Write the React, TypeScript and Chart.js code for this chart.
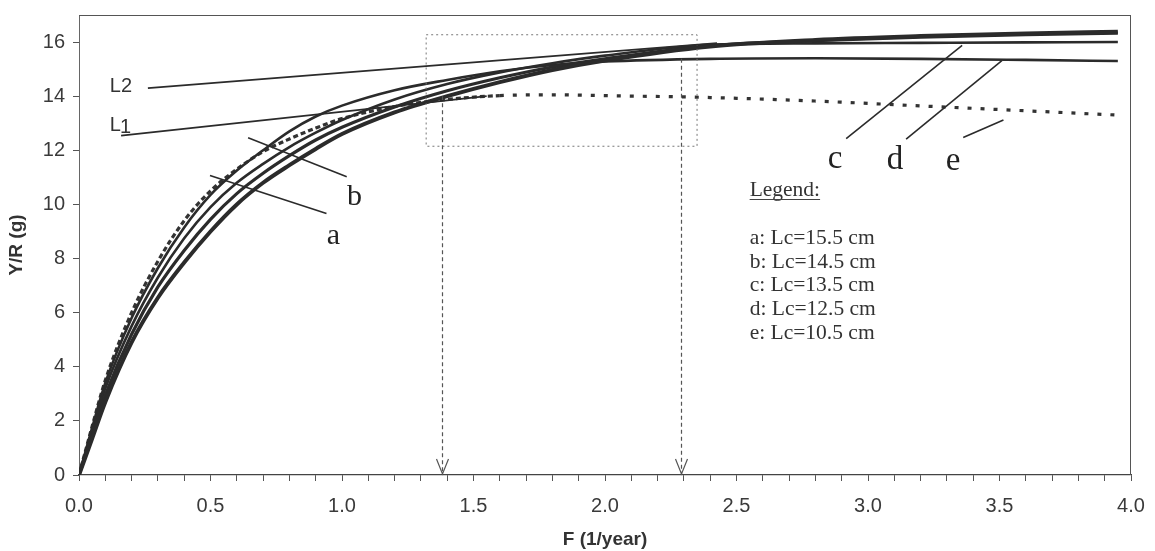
import React, { useEffect, useRef } from 'react';
import { Chart, registerables } from 'chart.js';

Chart.register(...registerables);

// Fishing mortality F (1/year) at which the yield-per-recruit curves are sampled
const F_VALUES = [0, 0.05, 0.1, 0.2, 0.3, 0.4, 0.5, 0.6, 0.7, 0.8, 0.9, 1.0, 1.2, 1.4, 1.6, 1.8, 2.0, 2.4, 2.8, 3.2, 3.6, 3.95];

// Y/R (g) for each length at first capture Lc
const YR_A = [0, 1.35, 2.7, 4.9, 6.55, 7.85, 9.0, 10.0, 10.8, 11.45, 12.05, 12.6, 13.4, 14.0, 14.52, 14.97, 15.32, 15.84, 16.08, 16.22, 16.32, 16.38];
const YR_B = [0, 1.5, 2.95, 5.2, 6.95, 8.3, 9.45, 10.4, 11.15, 11.8, 12.38, 12.85, 13.6, 14.2, 14.68, 15.08, 15.38, 15.86, 16.05, 16.18, 16.27, 16.33];
const YR_C = [0, 1.65, 3.2, 5.5, 7.3, 8.75, 9.9, 10.8, 11.5, 12.12, 12.65, 13.12, 13.88, 14.45, 14.88, 15.22, 15.5, 15.9, 15.95, 15.97, 15.99, 16.0];
const YR_D = [0, 1.75, 3.4, 5.8, 7.65, 9.15, 10.35, 11.25, 12.0, 12.7, 13.25, 13.65, 14.22, 14.6, 14.92, 15.15, 15.28, 15.38, 15.4, 15.38, 15.34, 15.3];
const YR_E = [0, 1.8, 3.5, 6.0, 7.9, 9.4, 10.5, 11.3, 11.95, 12.42, 12.82, 13.17, 13.62, 13.88, 14.02, 14.05, 14.02, 13.95, 13.82, 13.64, 13.46, 13.3];

const CURVE_LETTERS = ['a', 'b', 'c', 'd', 'e'];
const LC_CM = ['15.5', '14.5', '13.5', '12.5', '10.5'];

// Axis ranges and tick steps
const X_MIN = 0;
const X_MAX = 4;
const X_MINOR_STEP = 0.1;
const Y_MIN = 0;
const Y_MAX = 17;
const Y_STEP = 2;
const X_TITLE = 'F (1/year)';
const Y_TITLE = 'Y/R (g)';

// Tangent lines L1, L2 as [F, Y/R] end points
const L1_LINE = [[0.16, 12.54], [1.55, 14.0]];
const L2_LINE = [[0.262, 14.3], [2.426, 15.96]];

// Drop lines to the F axis: [F, starting Y/R]
const DROP_LINES = [[1.38, 14.0], [2.29, 15.38]];

// Dotted enlargement frame [F0, F1, Y0, Y1]
const FRAME_BOX = [1.32, 2.35, 12.15, 16.27];

// Curve label leader lines [[F, Y/R], [F, Y/R]] and label baselines [F, Y/R]
const LEADERS = [
  [[0.498, 11.07], [0.941, 9.66]],
  [[0.643, 12.46], [1.018, 11.02]],
  [[2.917, 12.43], [3.358, 15.88]],
  [[3.145, 12.41], [3.509, 15.31]],
  [[3.362, 12.47], [3.515, 13.12]],
];
const LETTER_AT = [[0.967, 8.54], [1.048, 9.98], [2.875, 11.33], [3.103, 11.31], [3.323, 11.29]];
const LETTER_SIZE = [30, 30, 33, 33, 33];

const L2_LABEL_AT = [0.117, 14.14];
const L1_LABEL_AT = [0.117, 12.73];

// Legend block: left edge F, baseline Y/R of the heading, item baselines
const LEGEND_LEFT_F = 2.55;
const LEGEND_HEAD_Y = 10.32;
const LEGEND_ITEM_Y = [8.54, 7.66, 6.8, 5.91, 5.02];

const SANS = '"Liberation Sans", Arial, sans-serif';
const SERIF = '"Liberation Serif", "Times New Roman", serif';
const INK = '#2b2b2b';

const toPoints = (ys: number[]) => F_VALUES.map((f, i) => ({ x: f, y: ys[i] }));

const annotationPlugin = {
  id: 'yprAnnotations',
  afterDatasetsDraw(chart: any) {
    const { ctx, chartArea } = chart;
    const xs = chart.scales.x;
    const ys = chart.scales.y;
    const px = (f: number) => xs.getPixelForValue(f);
    const py = (v: number) => ys.getPixelForValue(v);

    ctx.save();

    // top and right edges of the plot frame
    ctx.strokeStyle = '#555';
    ctx.lineWidth = 1;
    ctx.setLineDash([]);
    ctx.beginPath();
    ctx.moveTo(chartArea.left, Math.round(chartArea.top) + 0.5);
    ctx.lineTo(chartArea.right, Math.round(chartArea.top) + 0.5);
    ctx.moveTo(Math.round(chartArea.right) - 0.5, chartArea.top);
    ctx.lineTo(Math.round(chartArea.right) - 0.5, chartArea.bottom);
    ctx.stroke();

    // dotted enlargement frame
    const [b0, b1, c0, c1] = FRAME_BOX;
    ctx.strokeStyle = '#777';
    ctx.lineWidth = 1;
    ctx.setLineDash([2, 3]);
    ctx.strokeRect(px(b0), py(c1), px(b1) - px(b0), py(c0) - py(c1));

    // dashed drop lines with open arrow heads
    DROP_LINES.forEach(([f, v]) => {
      const x = Math.round(px(f)) + 0.5;
      ctx.strokeStyle = '#555';
      ctx.lineWidth = 1.2;
      ctx.setLineDash([4, 3]);
      ctx.beginPath();
      ctx.moveTo(x, py(v));
      ctx.lineTo(x, py(0) - 1);
      ctx.stroke();
      ctx.setLineDash([]);
      ctx.beginPath();
      ctx.moveTo(x - 6, py(0) - 16);
      ctx.lineTo(x, py(0) - 1);
      ctx.lineTo(x + 6, py(0) - 16);
      ctx.stroke();
    });

    // tangent lines
    ctx.setLineDash([]);
    ctx.strokeStyle = INK;
    ctx.lineWidth = 1.8;
    [L1_LINE, L2_LINE].forEach(([p, q]) => {
      ctx.beginPath();
      ctx.moveTo(px(p[0]), py(p[1]));
      ctx.lineTo(px(q[0]), py(q[1]));
      ctx.stroke();
    });

    // leader lines to the curves
    ctx.lineWidth = 1.6;
    LEADERS.forEach(([p, q]) => {
      ctx.beginPath();
      ctx.moveTo(px(p[0]), py(p[1]));
      ctx.lineTo(px(q[0]), py(q[1]));
      ctx.stroke();
    });

    // curve letters
    ctx.fillStyle = '#222';
    ctx.textBaseline = 'alphabetic';
    ctx.textAlign = 'center';
    CURVE_LETTERS.forEach((letter, i) => {
      ctx.font = `${LETTER_SIZE[i]}px ${SERIF}`;
      ctx.fillText(letter, px(LETTER_AT[i][0]), py(LETTER_AT[i][1]));
    });

    // L1 / L2 labels
    ctx.textAlign = 'left';
    ctx.fillStyle = '#333';
    ctx.font = `20px ${SANS}`;
    ctx.fillText('L2', px(L2_LABEL_AT[0]), py(L2_LABEL_AT[1]));
    const lx = px(L1_LABEL_AT[0]);
    const ly = py(L1_LABEL_AT[1]);
    ctx.fillText('L', lx, ly);
    ctx.fillText('1', lx + ctx.measureText('L').width - 1, ly + 2);

    // legend text block
    const legX = px(LEGEND_LEFT_F);
    ctx.fillStyle = '#333';
    ctx.font = `21.5px ${SERIF}`;
    const headY = py(LEGEND_HEAD_Y);
    ctx.fillText('Legend:', legX, headY);
    const w = ctx.measureText('Legend:').width;
    ctx.strokeStyle = '#444';
    ctx.lineWidth = 1;
    ctx.beginPath();
    ctx.moveTo(legX, Math.round(headY) + 3.5);
    ctx.lineTo(legX + w, Math.round(headY) + 3.5);
    ctx.stroke();
    CURVE_LETTERS.forEach((letter, i) => {
      ctx.fillText(`${letter}: Lc=${LC_CM[i]} cm`, legX, py(LEGEND_ITEM_Y[i]));
    });

    ctx.restore();
  },
};

export default function App() {
  const canvasRef = useRef<HTMLCanvasElement | null>(null);

  useEffect(() => {
    const canvas = canvasRef.current;
    if (!canvas) return;

    const curveStyle = (width: number) => ({
      borderColor: INK,
      borderWidth: width,
      pointRadius: 0,
      fill: false,
      cubicInterpolationMode: 'monotone' as const,
    });

    const chart = new Chart(canvas, {
      type: 'line',
      data: {
        datasets: [
          { label: 'a: Lc=15.5 cm', data: toPoints(YR_A), ...curveStyle(4) },
          { label: 'b: Lc=14.5 cm', data: toPoints(YR_B), ...curveStyle(3.2) },
          { label: 'c: Lc=13.5 cm', data: toPoints(YR_C), ...curveStyle(2.6) },
          { label: 'd: Lc=12.5 cm', data: toPoints(YR_D), ...curveStyle(2.6) },
          {
            label: 'e: Lc=10.5 cm',
            data: toPoints(YR_E),
            ...curveStyle(3.2),
            borderColor: '#333',
            borderCapStyle: 'butt',
            segment: {
              borderDash: (c: any) => (c.p0.parsed.x >= 1.55 ? [4, 9] : [5, 3]),
            },
          },
        ],
      },
      options: {
        responsive: false,
        animation: false,
        events: [],
        layout: { padding: { left: 0, right: 24, top: 15, bottom: 0 } },
        plugins: {
          legend: { display: false },
          tooltip: { enabled: false },
        },
        scales: {
          x: {
            type: 'linear',
            min: X_MIN,
            max: X_MAX,
            afterFit: (s: any) => {
              s.height = 76;
              s.paddingLeft = 0;
              s.paddingRight = 0;
            },
            border: { display: true, color: '#444', width: 1.2 },
            grid: { display: true, drawOnChartArea: false, drawTicks: true, tickLength: 6, color: '#555' },
            ticks: {
              stepSize: X_MINOR_STEP,
              autoSkip: false,
              maxRotation: 0,
              padding: 13,
              color: '#3a3a3a',
              font: { family: SANS, size: 20 },
              callback: (v: any) => {
                const n = Number(v);
                return Math.abs(n * 2 - Math.round(n * 2)) < 1e-6 ? n.toFixed(1) : '';
              },
            },
            title: {
              display: true,
              text: X_TITLE,
              color: '#333',
              font: { family: SANS, size: 19, weight: 'bold' },
              padding: { top: 0, bottom: 0 },
            },
          },
          y: {
            type: 'linear',
            min: Y_MIN,
            max: Y_MAX,
            afterFit: (s: any) => {
              s.width = 79;
              s.paddingTop = 0;
              s.paddingBottom = 0;
            },
            border: { display: true, color: '#666', width: 1 },
            grid: { display: true, drawOnChartArea: false, drawTicks: true, tickLength: 6, color: '#555' },
            ticks: {
              stepSize: Y_STEP,
              includeBounds: false,
              padding: 8,
              color: '#3a3a3a',
              font: { family: SANS, size: 20 },
            },
            title: {
              display: true,
              text: Y_TITLE,
              color: '#333',
              font: { family: SANS, size: 19, weight: 'bold' },
              padding: { top: 5, bottom: 0 },
            },
          },
        },
      },
      plugins: [annotationPlugin],
    });

    return () => chart.destroy();
  }, []);

  return (
    <div style={{ position: 'fixed', left: 0, top: 0, width: 1155, height: 551, background: '#fff' }}>
      <canvas ref={canvasRef} width={1155} height={551} />
    </div>
  );
}
